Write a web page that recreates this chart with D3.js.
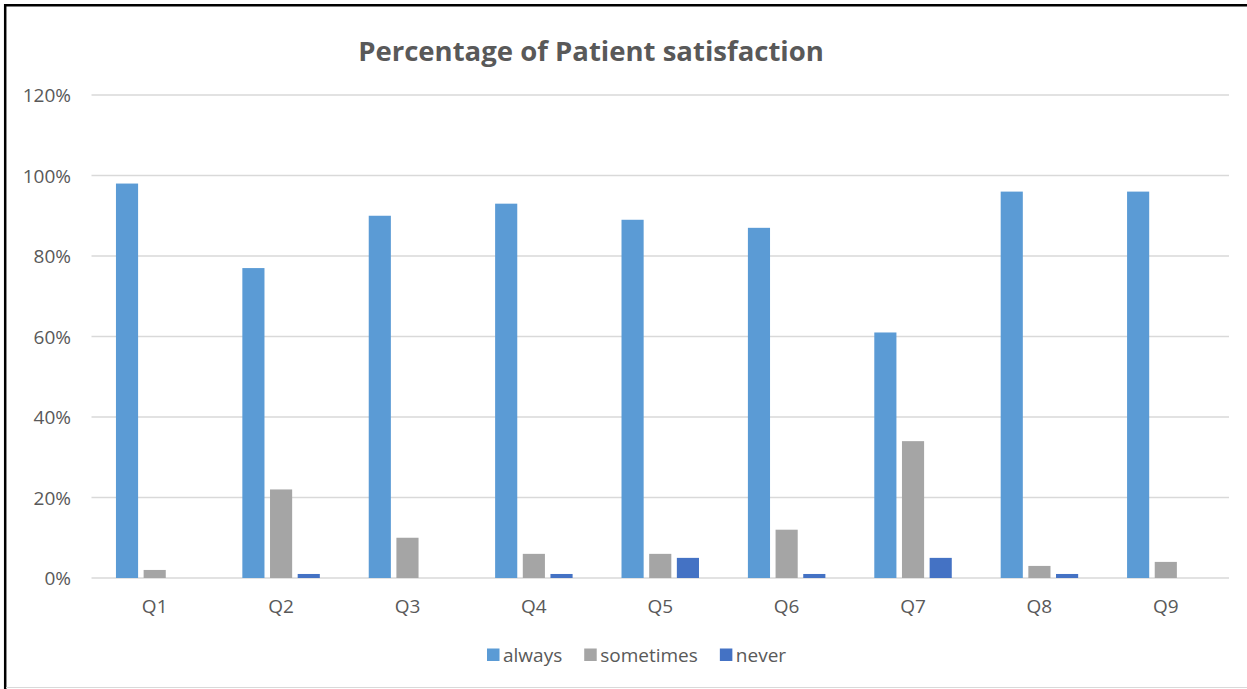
<!DOCTYPE html>
<html>
<head>
<meta charset="utf-8">
<script src="https://cdn.jsdelivr.net/npm/d3@7"></script>
<style>
  html, body { margin: 0; padding: 0; background: #fff; }
  svg { display: block; }
  text { font-family: "Open Sans", "Noto Sans", sans-serif; }
</style>
</head>
<body>
<svg id="chart" width="1247" height="689"></svg>
<script>
// ---- data ----
const categories = ["Q1", "Q2", "Q3", "Q4", "Q5", "Q6", "Q7", "Q8", "Q9"];
const seriesNames = ["always", "sometimes", "never"];
const always    = [0.98, 0.77, 0.90, 0.93, 0.89, 0.87, 0.61, 0.96, 0.96];
const sometimes = [0.02, 0.22, 0.10, 0.06, 0.06, 0.12, 0.34, 0.03, 0.04];
const never     = [0.00, 0.01, 0.00, 0.01, 0.05, 0.01, 0.05, 0.01, 0.00];
const yTicks = [0, 0.2, 0.4, 0.6, 0.8, 1.0, 1.2];
const titleText = "Percentage of Patient satisfaction";

const seriesValues = { always, sometimes, never };
const colors = { always: "#5B9BD5", sometimes: "#A5A5A5", never: "#4472C4" };

const svg = d3.select("#chart");

// frame
svg.append("line").attr("x1", 5.2).attr("x2", 5.2).attr("y1", 4).attr("y2", 689)
  .attr("stroke", "#000").attr("stroke-width", 2.5);
svg.append("line").attr("x1", 4).attr("x2", 1247).attr("y1", 5.2).attr("y2", 5.2)
  .attr("stroke", "#000").attr("stroke-width", 2.5);
svg.append("line").attr("x1", 6).attr("x2", 1247).attr("y1", 687.5).attr("y2", 687.5)
  .attr("stroke", "#D9D9D9").attr("stroke-width", 1.2);

// scales
const x0 = d3.scaleBand().domain(categories).range([91.5, 1229])
  .paddingInner(0.387).paddingOuter(0.1935);
const x1 = d3.scaleBand().domain(seriesNames).range([0, x0.bandwidth()])
  .paddingInner(0.2).paddingOuter(0);
const y = d3.scaleLinear().domain([0, 1.2]).range([578, 95]);

// gridlines
svg.append("g").selectAll("line").data(yTicks).join("line")
  .attr("x1", 91.5).attr("x2", 1229)
  .attr("y1", d => y(d)).attr("y2", d => y(d))
  .attr("stroke", "#D9D9D9").attr("stroke-width", 1.3);

// y axis labels
const yAxis = d3.axisLeft(y).tickValues(yTicks).tickFormat(d3.format(".0%")).tickSize(0).tickPadding(0);
const gy = svg.append("g").attr("transform", "translate(71,0)").call(yAxis);
gy.select(".domain").remove();
gy.selectAll("text").attr("fill", "#595959").style("font-size", "19px")
  .style("font-family", "'Open Sans', sans-serif").attr("dy", "0.36em");

// bars
const groups = svg.append("g").selectAll("g").data(categories).join("g")
  .attr("transform", d => `translate(${x0(d)},0)`);
groups.selectAll("rect")
  .data((c, i) => seriesNames.map(s => ({ s, v: seriesValues[s][i] })))
  .join("rect")
  .attr("x", d => x1(d.s))
  .attr("width", x1.bandwidth())
  .attr("y", d => y(d.v))
  .attr("height", d => y(0) - y(d.v))
  .attr("fill", d => colors[d.s]);

// x axis labels
const xAxis = d3.axisBottom(x0).tickSize(0).tickPadding(0);
const gx = svg.append("g").attr("transform", "translate(0,613)").call(xAxis);
gx.select(".domain").remove();
gx.selectAll("text").attr("fill", "#595959").style("font-size", "19px")
  .style("font-family", "'Open Sans', sans-serif").attr("dy", "0").attr("y", 0);

// title
const title = svg.append("text").attr("x", 591).attr("y", 61)
  .attr("text-anchor", "middle").attr("fill", "#595959")
  .style("font-weight", "bold").style("font-size", "28px").text(titleText);
const tw = title.node().getComputedTextLength();
title.style("font-size", (28 * 466 / tw).toFixed(2) + "px");

// legend
const legend = svg.append("g");
let cx = 487;
seriesNames.forEach(s => {
  legend.append("rect").attr("x", cx).attr("y", 648.5).attr("width", 12.5).attr("height", 12.5)
    .attr("fill", colors[s]);
  const t = legend.append("text").attr("x", cx + 16).attr("y", 661.5)
    .attr("fill", "#595959").style("font-size", "19px").text(s);
  cx += 16 + t.node().getComputedTextLength() + 22;
});
</script>
</body>
</html>
